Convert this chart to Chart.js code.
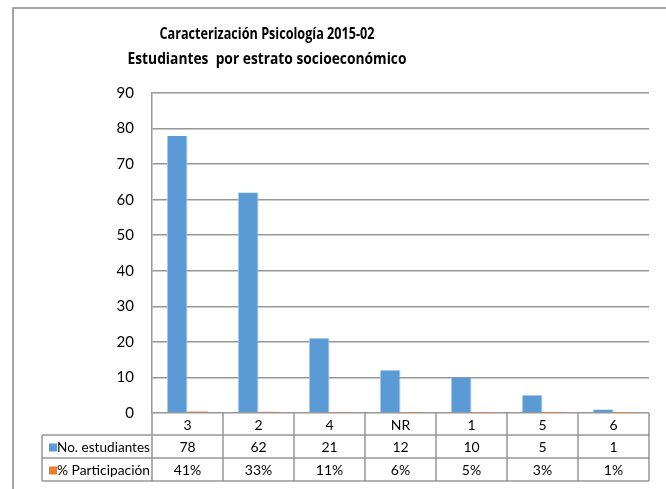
<!DOCTYPE html>
<html>
<head>
<meta charset="utf-8">
<script src="https://cdn.jsdelivr.net/npm/chart.js@4.4.1/dist/chart.umd.min.js"></script>
<style>
html,body{margin:0;padding:0;background:#fff;}
#wrap{position:relative;width:666px;height:489px;}
</style>
</head>
<body>
<div id="wrap"><canvas id="c" width="666" height="489"></canvas></div>
<script>
const categories = ['3', '2', '4', 'NR', '1', '5', '6'];
const seriesNames = ['No. estudiantes', '% Participación'];
const estudiantes = [78, 62, 21, 12, 10, 5, 1];
const participacion = [0.41, 0.33, 0.11, 0.06, 0.05, 0.03, 0.01];
const participacionLabels = ['41%', '33%', '11%', '6%', '5%', '3%', '1%'];
const yTicks = [0, 10, 20, 30, 40, 50, 60, 70, 80, 90];
const titleLines = ['Caracterización Psicología 2015-02', 'Estudiantes  por estrato socioeconómico'];

const BLUE = '#5B9BD5';
const ORANGE = '#ED7D31';
const GRID = '#969696';
const FONT = 'Lato, "Open Sans", "DejaVu Sans", sans-serif';
const TITLE_FONT = '"Open Sans", Lato, "DejaVu Sans", sans-serif';

const decor = {
  id: 'decor',
  beforeDraw(chart) {
    const ctx = chart.ctx;
    ctx.save();
    ctx.fillStyle = '#fff';
    ctx.fillRect(0, 0, chart.width, chart.height);
    ctx.strokeStyle = '#8c8c8c';
    ctx.lineWidth = 1.5;
    ctx.beginPath();
    ctx.moveTo(13, 489);
    ctx.lineTo(13, 8);
    ctx.lineTo(666, 8);
    ctx.stroke();
    ctx.fillStyle = '#000';
    ctx.textAlign = 'center';
    ctx.textBaseline = 'middle';
    ctx.font = 'bold 16px ' + TITLE_FONT;
    ctx.fillText(titleLines[0], 267, 34, 215);
    ctx.fillText(titleLines[1], 267, 59, 279);
    ctx.restore();
  },
  afterDraw(chart) {
    const ctx = chart.ctx;
    const xs = chart.scales.x;
    const area = chart.chartArea;
    const n = categories.length;
    const w = xs.getPixelForValue(1) - xs.getPixelForValue(0);
    const y0 = area.bottom, r1 = y0 + 22, r2 = r1 + 23, r3 = r2 + 23;
    const legLeft = 42;
    ctx.save();
    ctx.strokeStyle = GRID;
    ctx.lineWidth = 1.5;
    ctx.beginPath();
    for (let i = 0; i <= n; i++) {
      const bx = xs.getPixelForValue(0) - w / 2 + i * w;
      ctx.moveTo(bx, y0);
      ctx.lineTo(bx, r3);
    }
    [r1, r2, r3].forEach(y => { ctx.moveTo(legLeft, y); ctx.lineTo(area.right, y); });
    ctx.moveTo(legLeft, r1); ctx.lineTo(legLeft, r3);
    ctx.stroke();

    ctx.fillStyle = '#000';
    ctx.font = '14px ' + FONT;
    ctx.textBaseline = 'middle';
    ctx.textAlign = 'center';
    for (let i = 0; i < n; i++) {
      const cx = xs.getPixelForValue(i);
      ctx.fillText(categories[i], cx, (y0 + r1) / 2 + 1);
      ctx.fillText(String(estudiantes[i]), cx, (r1 + r2) / 2 + 1);
      ctx.fillText(participacionLabels[i], cx, (r2 + r3) / 2 + 1);
    }
    ctx.textAlign = 'left';
    ctx.fillStyle = BLUE;
    ctx.fillRect(49, (r1 + r2) / 2 - 3, 8, 8);
    ctx.fillStyle = ORANGE;
    ctx.fillRect(49, (r2 + r3) / 2 - 3, 8, 8);
    ctx.fillStyle = '#000';
    ctx.fillText(seriesNames[0], 57, (r1 + r2) / 2 + 1, 93);
    ctx.fillText(seriesNames[1], 57, (r2 + r3) / 2 + 1, 93);
    ctx.restore();
  }
};

new Chart(document.getElementById('c'), {
  type: 'bar',
  data: {
    labels: categories,
    datasets: [
      { label: seriesNames[0], data: estudiantes, backgroundColor: BLUE, borderColor: '#a9c9ea', borderWidth: {left: 1, right: 1, top: 0, bottom: 0}, categoryPercentage: 0.58, barPercentage: 1.0 },
      { label: seriesNames[1], data: participacion, backgroundColor: ORANGE, borderWidth: 0, categoryPercentage: 0.58, barPercentage: 1.0 }
    ]
  },
  options: {
    responsive: false,
    animation: false,
    devicePixelRatio: 1,
    layout: { padding: { left: 0, right: 17, top: 93, bottom: 76 } },
    plugins: { legend: { display: false }, title: { display: false }, tooltip: { enabled: false } },
    scales: {
      x: { display: false, offset: true },
      y: {
        min: 0, max: 90,
        afterFit(scale) { scale.width = 152; },
        afterBuildTicks(scale) { scale.ticks = yTicks.map(v => ({ value: v })); },
        ticks: { color: '#000', font: { family: FONT, size: 15 }, padding: 18 },
        grid: { color: GRID, lineWidth: 1.5, drawTicks: false },
        border: { display: true, color: GRID, width: 1.5 }
      }
    }
  },
  plugins: [decor]
});
</script>
</body>
</html>
